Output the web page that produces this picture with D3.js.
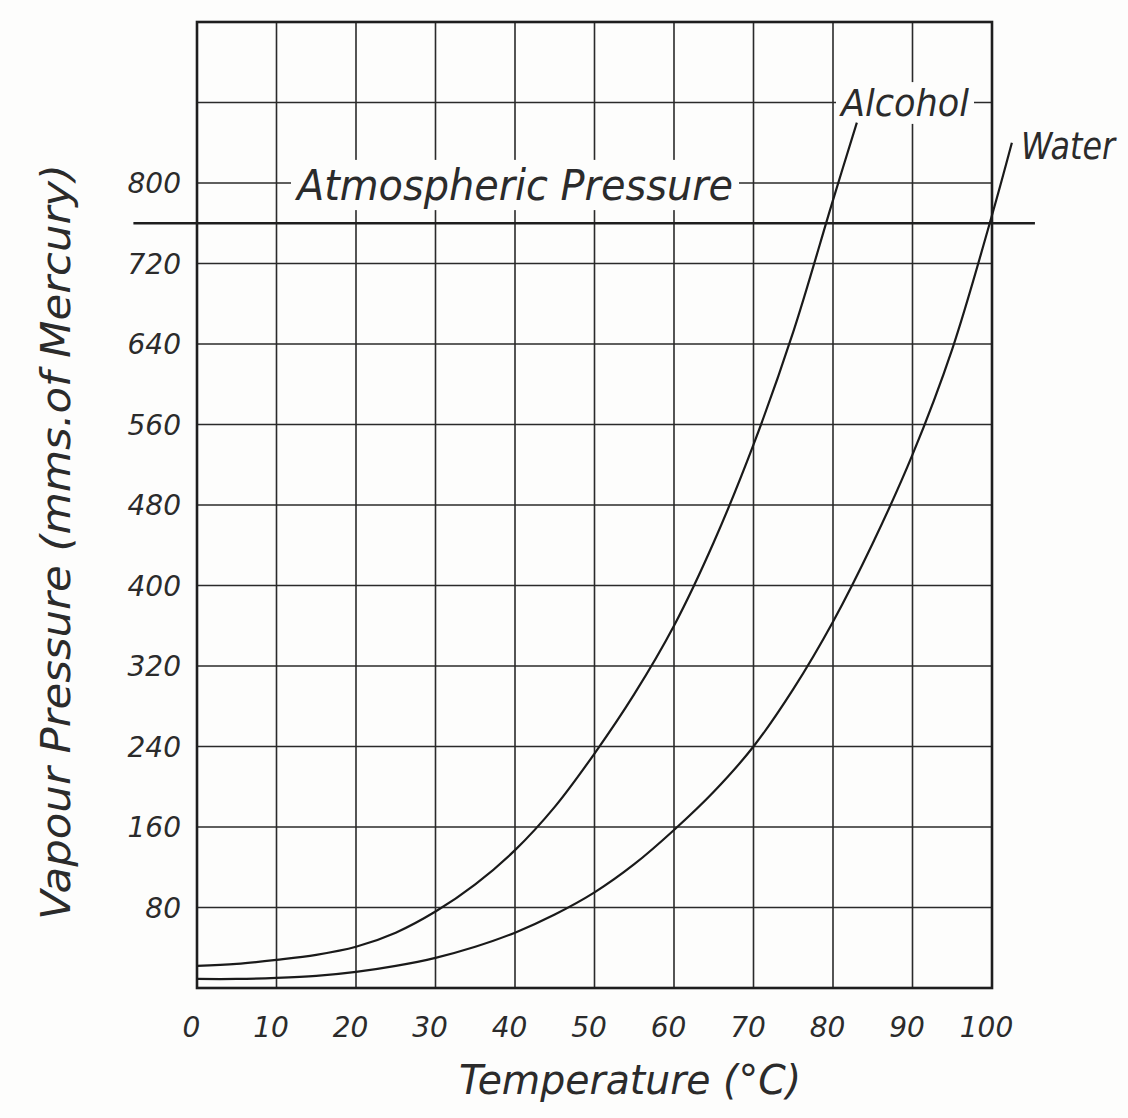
<!DOCTYPE html>
<html>
<head>
<meta charset="utf-8">
<script src="https://cdn.jsdelivr.net/npm/d3@7"></script>
<style>
  body { margin: 0; background: #fdfdfc; }
  svg { display: block; }
  .grid line { stroke: #2a2a2a; stroke-width: 1.6; }
  .frame { fill: none; stroke: #1e1e1e; stroke-width: 2.6; }
  .curve { fill: none; stroke: #1a1a1a; stroke-width: 2.2; }
  .tick text, .lbl { fill: #2b2b2b; font-style: italic; }
  .tick text { font-family: "DejaVu Sans", sans-serif; font-size: 28px; }
  .lbl { font-family: "Liberation Sans Narrow", "DejaVu Sans Condensed", sans-serif; }
</style>
</head>
<body>
<svg id="chart" width="1128" height="1118"></svg>
<script>
// values (deg C -> mm of mercury)
const alcoholT = [0, 5, 10, 15, 20, 25, 30, 35, 40, 45, 50, 55, 60, 65, 70, 75, 80, 83]
const alcoholP = [22, 24, 28, 33, 41, 55, 76, 103, 137, 180, 233, 292, 360, 443, 540, 652, 783, 860]

const waterT = [0, 5, 10, 15, 20, 25, 30, 35, 40, 45, 50, 55, 60, 65, 70, 75, 80, 85, 90, 95, 100, 102.5]
const waterP = [9, 9, 10, 12, 16, 22, 30, 41, 55, 73, 95, 123, 157, 195, 240, 297, 364, 442, 530, 635, 768, 840]

const atmospheric = 760

const xTicks = [0, 10, 20, 30, 40, 50, 60, 70, 80, 90, 100]
const yTicks = [80, 160, 240, 320, 400, 480, 560, 640, 720, 800]
const yGrid = [80, 160, 240, 320, 400, 480, 560, 640, 720, 800, 880]

const svg = d3.select("#chart")

const x = d3.scaleLinear()
  .domain([0, 100])
  .range([197, 992])

const y = d3.scaleLinear()
  .domain([0, 960])
  .range([988, 22])

// grid
const grid = svg.append("g").attr("class", "grid")
grid.selectAll(".v")
  .data(xTicks.slice(1, -1))
  .join("line")
  .attr("x1", d => x(d)).attr("x2", d => x(d))
  .attr("y1", y(960)).attr("y2", y(0))
grid.selectAll(".h")
  .data(yGrid)
  .join("line")
  .attr("x1", x(0)).attr("x2", x(100))
  .attr("y1", d => y(d)).attr("y2", d => y(d))

// atmospheric pressure line runs past the frame on both sides
svg.append("line")
  .attr("x1", x(-8)).attr("x2", x(105.4))
  .attr("y1", y(atmospheric)).attr("y2", y(atmospheric))
  .attr("stroke", "#1e1e1e")
  .attr("stroke-width", 2.4)

svg.append("rect")
  .attr("class", "frame")
  .attr("x", x(0)).attr("y", y(960))
  .attr("width", x(100) - x(0))
  .attr("height", y(0) - y(960))

// labels that sit on the grid get a blank patch behind them
function label(txt, cx, cy, w, size, pad) {
  let g = svg.append("g")
  g.append("rect")
    .attr("x", cx - w / 2 - pad[0])
    .attr("y", cy - size * 0.55 - pad[1])
    .attr("width", w + 2 * pad[0])
    .attr("height", size * 1.1 + 2 * pad[1])
    .attr("fill", "#fdfdfc")
  g.append("text")
    .attr("class", "lbl")
    .attr("x", cx).attr("y", cy)
    .attr("text-anchor", "middle")
    .attr("dominant-baseline", "central")
    .attr("font-size", size)
    .attr("textLength", w)
    .attr("lengthAdjust", "spacingAndGlyphs")
    .text(txt)
}

label("Atmospheric Pressure", 515, 185, 436, 42, [6, 2])
label("Alcohol", 905, 103, 128, 38, [5, 0])

// curves
const line = d3.line()
  .x(d => x(d[0]))
  .y(d => y(d[1]))
  .curve(d3.curveCatmullRom.alpha(0.5))

svg.append("path")
  .attr("class", "curve")
  .attr("d", line(d3.zip(alcoholT, alcoholP)))
svg.append("path")
  .attr("class", "curve")
  .attr("d", line(d3.zip(waterT, waterP)))

svg.append("text")
  .attr("class", "lbl")
  .attr("x", 1068).attr("y", 146)
  .attr("text-anchor", "middle")
  .attr("dominant-baseline", "central")
  .attr("font-size", 38)
  .attr("textLength", 94)
  .attr("lengthAdjust", "spacingAndGlyphs")
  .text("Water")

// axes (labels only, the grid does the lines)
svg.append("g")
  .attr("transform", "translate(-6," + 1027 + ")")
  .call(d3.axisBottom(x).tickValues(xTicks).tickSize(0).tickPadding(0))
  .call(g => g.select(".domain").remove())
  .selectAll("text")
  .attr("dy", "0.35em")
  .attr("y", 0)

svg.append("g")
  .attr("transform", "translate(181,1)")
  .call(d3.axisLeft(y).tickValues(yTicks).tickSize(0).tickPadding(0))
  .call(g => g.select(".domain").remove())

svg.append("text")
  .attr("class", "lbl")
  .attr("x", 630).attr("y", 1080)
  .attr("text-anchor", "middle")
  .attr("dominant-baseline", "central")
  .attr("font-size", 40)
  .attr("textLength", 342)
  .attr("lengthAdjust", "spacingAndGlyphs")
  .text("Temperature (°C)")

svg.append("text")
  .attr("class", "lbl")
  .attr("transform", "translate(56,542) rotate(-90)")
  .attr("text-anchor", "middle")
  .attr("dominant-baseline", "central")
  .attr("font-size", 40)
  .attr("textLength", 756)
  .attr("lengthAdjust", "spacingAndGlyphs")
  .text("Vapour Pressure (mms.of Mercury)")
</script>
</body>
</html>
